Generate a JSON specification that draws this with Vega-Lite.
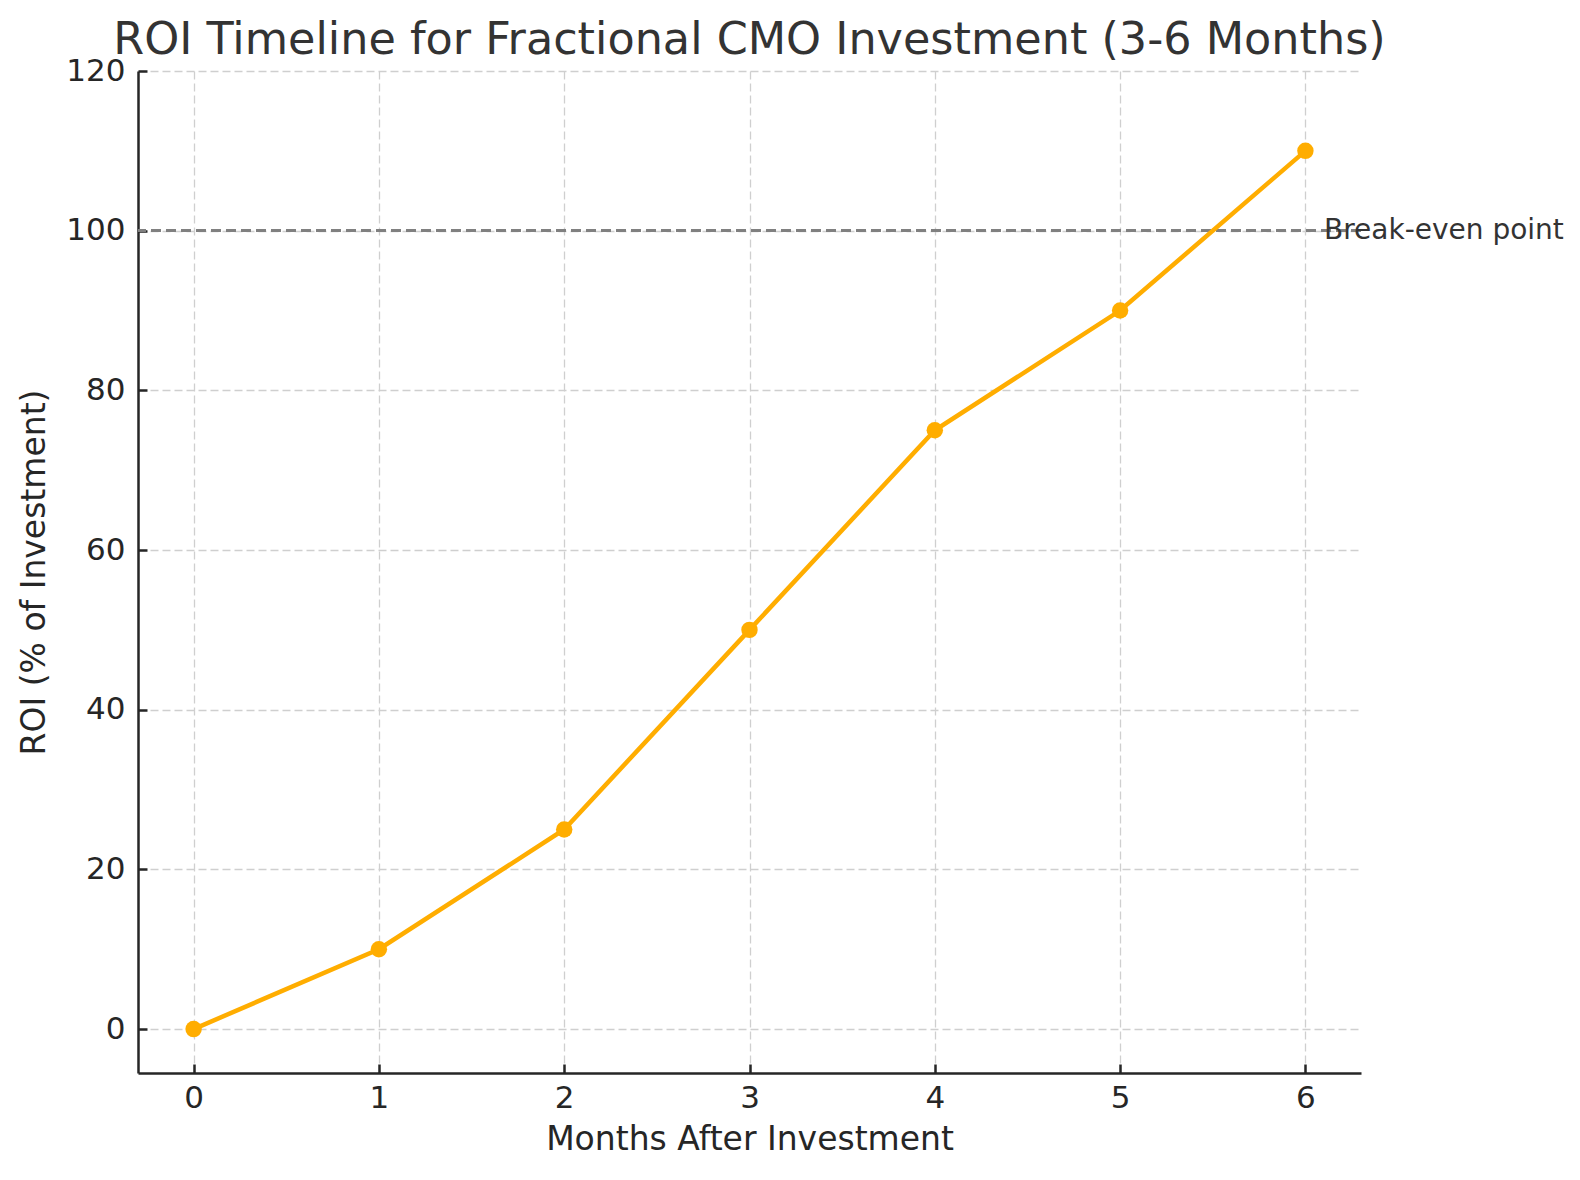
{
  "$schema": "https://vega.github.io/schema/vega-lite/v6.json",
  "autosize": {"type": "none"},
  "padding": {"left": 138, "top": 71, "right": 219, "bottom": 107},
  "width": 1223,
  "height": 1002,
  "background": "white",
  "config": {
    "font": "DejaVu Sans",
    "view": {"stroke": null},
    "axis": {
      "labelFont": "DejaVu Sans",
      "titleFont": "DejaVu Sans",
      "labelFontSize": 31,
      "titleFontSize": 33,
      "titleFontWeight": "normal",
      "labelColor": "#262626",
      "titleColor": "#262626",
      "domainColor": "#262626",
      "domainWidth": 2.5,
      "tickColor": "#262626",
      "tickWidth": 2.5,
      "tickSize": -9,
      "grid": true,
      "gridColor": "#cfcfcf",
      "gridDash": [8, 4],
      "gridWidth": 1.3
    }
  },
  "title": {
    "text": "ROI Timeline for Fractional CMO Investment (3-6 Months)",
    "font": "DejaVu Sans",
    "fontSize": 44.5,
    "fontWeight": "normal",
    "color": "#333333",
    "anchor": "middle",
    "offset": 8,
    "dy": 16
  },
  "data": {
    "values": [
      {"month": 0, "roi": 0},
      {"month": 1, "roi": 10},
      {"month": 2, "roi": 25},
      {"month": 3, "roi": 50},
      {"month": 4, "roi": 75},
      {"month": 5, "roi": 90},
      {"month": 6, "roi": 110}
    ]
  },
  "layer": [
    {
      "mark": {"type": "rule", "color": "#808080", "strokeWidth": 2.2, "strokeDash": [10, 5]},
      "encoding": {"y": {"datum": 100, "type": "quantitative"}}
    },
    {
      "mark": {"type": "line", "color": "#FFAD00", "strokeWidth": 4.5},
      "encoding": {
        "x": {
          "field": "month",
          "type": "quantitative",
          "scale": {"domain": [-0.3, 6.3], "nice": false, "zero": false},
          "axis": {"title": "Months After Investment", "values": [0, 1, 2, 3, 4, 5, 6], "labelPadding": 19, "titlePadding": 10, "format": "d"}
        },
        "y": {
          "field": "roi",
          "type": "quantitative",
          "scale": {"domain": [-5.5, 120], "nice": false, "zero": false},
          "axis": {"title": "ROI (% of Investment)", "values": [0, 20, 40, 60, 80, 100, 120], "labelPadding": 22, "titlePadding": 14, "format": "d"}
        }
      }
    },
    {
      "mark": {"type": "point", "filled": true, "color": "#FFAD00", "size": 270, "opacity": 1, "shape": "circle"},
      "encoding": {
        "x": {"field": "month", "type": "quantitative"},
        "y": {"field": "roi", "type": "quantitative"}
      }
    },
    {
      "data": {"values": [{"month": 6.1, "roi": 100, "label": "Break-even point"}]},
      "mark": {"type": "text", "align": "left", "baseline": "middle", "fontSize": 28, "color": "#333333", "font": "DejaVu Sans"},
      "encoding": {
        "x": {"field": "month", "type": "quantitative"},
        "y": {"field": "roi", "type": "quantitative"},
        "text": {"field": "label"}
      }
    }
  ]
}
